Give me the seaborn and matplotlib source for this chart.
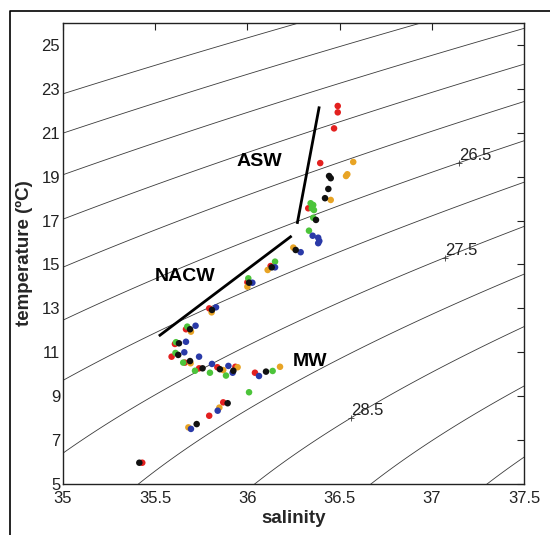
import numpy as np
import pandas as pd
import matplotlib
matplotlib.use("Agg")
import matplotlib.pyplot as plt
import seaborn as sns
from matplotlib.lines import Line2D

# ---------------- data ----------------
red_S = [36.490, 36.490, 36.470, 36.395, 36.330, 36.126, 36.000, 35.793, 35.667, 35.607,
         35.589, 35.661, 35.738, 35.837, 35.935, 36.041, 35.869, 35.793, 35.430]
red_T = [22.22, 21.93, 21.20, 19.62, 17.56, 14.93, 14.19, 13.00, 12.05, 11.38,
         10.80, 10.53, 10.27, 10.32, 10.34, 10.07, 8.72, 8.11, 5.97]

orange_S = [36.574, 36.542, 36.535, 36.452, 36.249, 36.110, 36.000, 35.806, 35.694, 35.692,
            35.869, 35.947, 36.177, 35.848, 35.680]
orange_T = [19.67, 19.11, 19.03, 17.94, 15.77, 14.75, 13.99, 12.82, 11.94, 10.50,
            10.19, 10.32, 10.34, 8.48, 7.58]

green_S = [36.343, 36.357, 36.361, 36.349, 36.357, 36.334, 36.150, 36.005, 35.674, 35.613,
           35.610, 35.652, 35.716, 35.797, 35.884, 36.137, 36.009]
green_T = [17.79, 17.71, 17.48, 17.56, 17.13, 16.54, 15.13, 14.37, 12.17, 11.46,
           10.97, 10.53, 10.16, 10.07, 9.94, 10.15, 9.18]

blue_S = [36.354, 36.384, 36.390, 36.384, 36.289, 36.150, 36.027, 35.830, 35.719, 35.667,
          35.658, 35.738, 35.808, 35.897, 35.920, 36.063, 35.839, 35.694]
blue_T = [16.31, 16.22, 16.07, 15.97, 15.56, 14.87, 14.17, 13.05, 12.21, 11.48,
          11.00, 10.80, 10.47, 10.38, 10.07, 9.92, 8.34, 7.51]

black_S = [36.443, 36.452, 36.439, 36.421, 36.372, 36.262, 36.132, 36.009, 35.808, 35.689,
           35.629, 35.625, 35.689, 35.757, 35.851, 35.924, 36.101, 35.893, 35.725, 35.414]
black_T = [19.03, 18.93, 18.44, 18.02, 17.03, 15.66, 14.87, 14.17, 12.93, 12.05,
           11.41, 10.88, 10.60, 10.27, 10.23, 10.16, 10.12, 8.68, 7.73, 5.97]

# water-mass lines
nacw_S = [35.52, 36.24]
nacw_T = [11.74, 16.30]
asw_S = [36.27, 36.39]
asw_T = [16.85, 22.20]

# isopycnal levels (sigma-theta) and labelled ones
sigma_levels = [24.0, 24.5, 25.0, 25.5, 26.0, 26.5, 27.0, 27.5, 28.0, 28.5, 29.0, 29.5]
label_levels = [26.5, 27.5, 28.5]
label_S = [37.15, 37.07, 36.56]

x_ticks = [35, 35.5, 36, 36.5, 37, 37.5]
x_ticklabels = ["35", "35.5", "36", "36.5", "37", "37.5"]
y_ticks = [5, 7, 9, 11, 13, 15, 17, 19, 21, 23, 25]

palette = {"red": "#e3201f", "orange": "#e8a425", "green": "#4cc43a",
           "blue": "#2a3aa8", "black": "#111111"}


def sigma_theta(S, T):
    """UNESCO EOS-80 density anomaly at surface pressure."""
    rw = (999.842594 + 6.793952e-2 * T - 9.095290e-3 * T**2 + 1.001685e-4 * T**3
          - 1.120083e-6 * T**4 + 6.536332e-9 * T**5)
    A = (8.24493e-1 - 4.0899e-3 * T + 7.6438e-5 * T**2 - 8.2467e-7 * T**3
         + 5.3875e-9 * T**4)
    B = -5.72466e-3 + 1.0227e-4 * T - 1.6546e-6 * T**2
    C = 4.8314e-4
    return rw + A * S + B * S**1.5 + C * S**2 - 1000.0


# ---------------- dataframe ----------------
frames = []
for name, s, t in [("red", red_S, red_T), ("orange", orange_S, orange_T),
                   ("green", green_S, green_T), ("blue", blue_S, blue_T),
                   ("black", black_S, black_T)]:
    frames.append(pd.DataFrame({"salinity": s, "temperature": t, "group": name}))
df = pd.concat(frames, ignore_index=True)

# ---------------- plot ----------------
sns.set_style("white")
plt.rcParams["font.family"] = ["Liberation Sans", "DejaVu Sans"]

fig = plt.figure(figsize=(5.5, 5.35), dpi=100)
ax = fig.add_axes([0.1145, 0.0953, 0.8382, 0.8617])

# isopycnals
Sg, Tg = np.meshgrid(np.linspace(34.9, 37.6, 300), np.linspace(4.5, 26.5, 300))
sig = sigma_theta(Sg, Tg)
ax.contour(Sg, Tg, sig, levels=sigma_levels, colors="#3a3a3a", linewidths=0.6)

# contour labels (MATLAB-like '+' and text)
Tfine = np.linspace(4.5, 26.5, 4000)
for lev, s in zip(label_levels, label_S):
    vals = sigma_theta(s, Tfine)
    t = np.interp(lev, vals[::-1], Tfine[::-1])
    ax.plot([s], [t], marker="+", color="#3a3a3a", ms=4, mew=0.6)
    ax.annotate(f"{lev:g}", (s, t), xytext=(0, 0), textcoords="offset points",
                ha="left", va="bottom", fontsize=12, color="#222222")

# water-mass lines
ax.plot(nacw_S, nacw_T, color="black", lw=2.0, solid_capstyle="butt")
ax.plot(asw_S, asw_T, color="black", lw=2.0, solid_capstyle="butt")

# scatter
sns.scatterplot(data=df, x="salinity", y="temperature", hue="group",
                palette=palette, s=22, linewidth=0, legend=False, ax=ax, zorder=3)

# water-mass labels
ax.text(36.063, 19.67, "ASW", fontsize=14, fontweight="bold", ha="center", va="center",
        color="black")
ax.text(35.66, 14.43, "NACW", fontsize=14, fontweight="bold", ha="center", va="center",
        color="black")
ax.text(36.342, 10.56, "MW", fontsize=14, fontweight="bold", ha="center", va="center",
        color="black")

ax.set_xlim(35, 37.5)
ax.set_ylim(5, 26)
ax.set_xticks(x_ticks)
ax.set_xticklabels(x_ticklabels)
ax.set_yticks(y_ticks)
ax.tick_params(direction="in", length=5, width=0.8, top=True, right=True,
               labelsize=12, labelcolor="#222222", color="#222222")
ax.tick_params(axis="x", pad=5)
ax.tick_params(axis="y", pad=2)
for sp in ax.spines.values():
    sp.set_color("#222222")
    sp.set_linewidth(1.0)

ax.set_xlabel("salinity", fontsize=13.5, fontweight="bold", labelpad=3)
ax.set_ylabel("temperature (ºC)", fontsize=13.5, fontweight="bold", labelpad=6)

# outer figure frame (left and top edges)
fx = 9.5 / 550
fy = 1 - 11 / 535
fig.add_artist(Line2D([fx, fx, 1.0], [0.0, fy, fy], transform=fig.transFigure,
                      color="black", lw=1.2))

fig.savefig("out.png", dpi=100)
